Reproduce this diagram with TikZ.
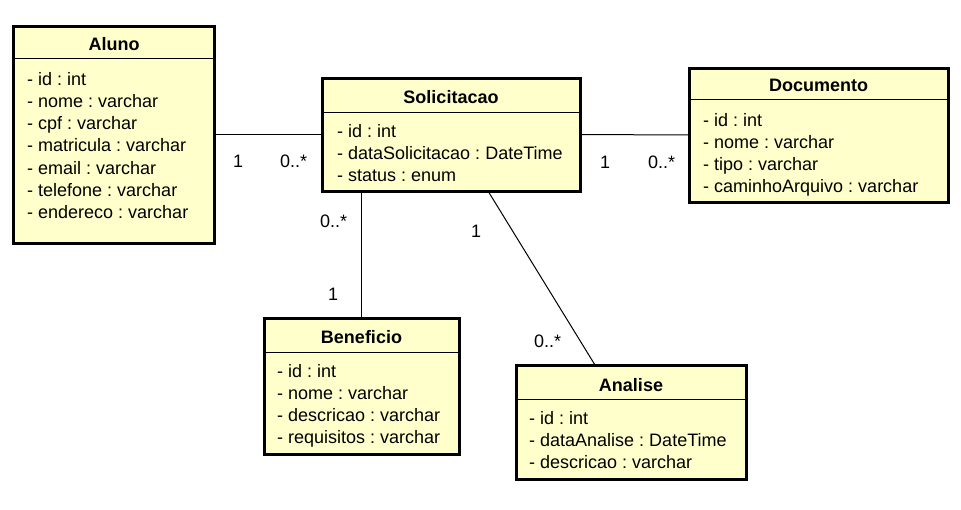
\documentclass[tikz,border=0pt]{standalone}
\usepackage{fontspec}
\setmainfont{Liberation Sans}
\definecolor{umlfill}{HTML}{FFFFCC}
\begin{document}
\frenchspacing
\begin{tikzpicture}[x=1pt,y=-1pt,
  cls/.style={draw=black, line width=3pt, fill=umlfill, anchor=north west, inner sep=0pt, outer sep=0pt},
  sepline/.style={draw=black, line width=1pt},
  conn/.style={draw=black, line width=1pt},
  txt/.style={anchor=base west, inner sep=0pt, font=\fontsize{18}{21}\selectfont},
  ttl/.style={anchor=base, inner sep=0pt, font=\fontsize{18}{21}\selectfont\bfseries},
  mult/.style={anchor=base west, inner sep=0pt, font=\fontsize{18}{21}\selectfont}]
\useasboundingbox (0,0) rectangle (961,509);

% Aluno
\node[cls, minimum width=201pt, minimum height=217pt] (aluno) at (13,26) {};
\draw[sepline] (13,58) -- (214,58);
\node[ttl] (alunot) at (114,50) {Aluno};
\node[txt] (a1) at (27,85) {- id : int};
\node[txt] (a2) at (27,107.3) {- nome : varchar};
\node[txt] (a3) at (27,129.6) {- cpf : varchar};
\node[txt] (a4) at (27,151.9) {- matricula : varchar};
\node[txt] (a5) at (27,174.2) {- email : varchar};
\node[txt] (a6) at (27,196.5) {- telefone : varchar};
\node[txt] (a7) at (27,218.8) {- endereco : varchar};

% Solicitacao
\node[cls, minimum width=258pt, minimum height=113pt] (solic) at (322,78) {};
\draw[sepline] (322,112) -- (580,112);
\node[ttl] (solict) at (451,103) {Solicitacao};
\node[txt] (s1) at (337,137) {- id : int};
\node[txt] (s2) at (337,159.3) {- dataSolicitacao : DateTime};
\node[txt] (s3) at (337,181.6) {- status : enum};

% Documento
\node[cls, minimum width=259pt, minimum height=134pt] (doc) at (689,68) {};
\draw[sepline] (689,99) -- (948,99);
\node[ttl] (doct) at (818.5,91) {Documento};
\node[txt] (d1) at (703,126) {- id : int};
\node[txt] (d2) at (703,148.3) {- nome : varchar};
\node[txt] (d3) at (703,170.6) {- tipo : varchar};
\node[txt] (d4) at (703,192.9) {- caminhoArquivo : varchar};

% Beneficio
\node[cls, minimum width=195pt, minimum height=136pt] (benef) at (264,318) {};
\draw[sepline] (264,352) -- (459,352);
\node[ttl] (beneft) at (361.5,343) {Beneficio};
\node[txt] (b1) at (277,377) {- id : int};
\node[txt] (b2) at (277,399.3) {- nome : varchar};
\node[txt] (b3) at (277,421.6) {- descricao : varchar};
\node[txt] (b4) at (277,443.9) {- requisitos : varchar};

% Analise
\node[cls, minimum width=230pt, minimum height=114pt] (anal) at (516,365) {};
\draw[sepline] (516,399) -- (746,399);
\node[ttl] (analt) at (631,391) {Analise};
\node[txt] (n1) at (529,424) {- id : int};
\node[txt] (n2) at (529,446.3) {- dataAnalise : DateTime};
\node[txt] (n3) at (529,468.6) {- descricao : varchar};

% connectors
\draw[conn] (aluno.east) -- (solic.west);
\draw[conn] (solic.east) -- (doc.west);
\draw[conn] (benef.north |- solic.south) -- (benef.north);
\draw[conn] ([xshift=37pt]solic.south) -- ([xshift=-36pt]anal.north);

% multiplicities
\node[mult] (m1) at (233,167) {1};
\node[mult] (m2) at (280,167) {0..*};
\node[mult] (m3) at (600,168) {1};
\node[mult] (m4) at (648,168) {0..*};
\node[mult] (m5) at (320,227) {0..*};
\node[mult] (m6) at (328,300) {1};
\node[mult] (m7) at (471,237) {1};
\node[mult] (m8) at (534,347) {0..*};
\end{tikzpicture}
\end{document}
